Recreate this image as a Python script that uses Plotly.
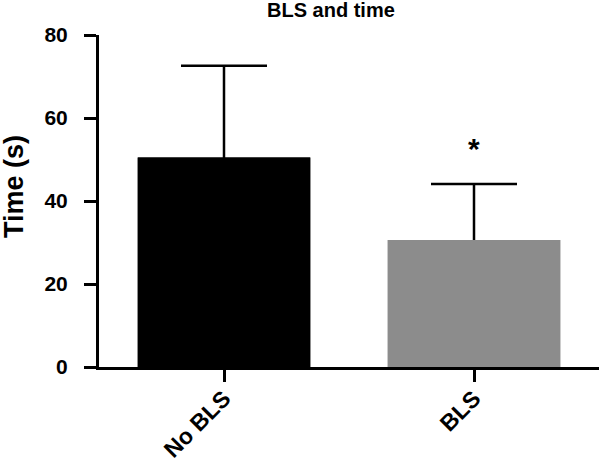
import plotly.graph_objects as go

categories = ["No BLS", "BLS"]
means = [50.5, 30.6]
errors = [22.1, 13.5]
colors = ["#000000", "#8c8c8c"]
y_ticks = [0, 20, 40, 60, 80]
title_text = "BLS and time"
y_title = "Time (s)"
sig_label = "*"

FONT = "Liberation Sans, Arial, sans-serif"

fig = go.Figure()
# error bars (symmetric, lower half hidden behind the bars drawn on top)
fig.add_trace(go.Bar(
    x=categories, y=means,
    marker=dict(color=colors, line=dict(width=0)),
    width=0.69,
    error_y=dict(type="data", symmetric=True, array=errors,
                 color="black", thickness=2.5, width=43),
))
fig.add_trace(go.Bar(
    x=categories, y=means,
    marker=dict(color=colors, line=dict(width=0)),
    width=0.69,
))

fig.add_annotation(x=categories[1], y=means[1] + errors[1] + 8.5,
                   text="<b>" + sig_label + "</b>", showarrow=False,
                   font=dict(size=30, color="black", family=FONT),
                   xref="x", yref="y")

fig.add_annotation(x=0.464, y=1.0, xref="paper", yref="paper",
                   xanchor="center", yanchor="middle", yshift=25,
                   text="<b>" + title_text + "</b>", showarrow=False,
                   font=dict(size=20, color="black", family=FONT))

fig.add_annotation(x=-0.17, y=0.542, xref="paper", yref="paper",
                   xanchor="center", yanchor="middle", textangle=-90,
                   text="<b>" + y_title + "</b>", showarrow=False,
                   font=dict(size=27, color="black", family=FONT))

fig.update_layout(
    width=600, height=462,
    margin=dict(l=99, r=1, t=35, b=95, autoexpand=False),
    plot_bgcolor="white", paper_bgcolor="white",
    showlegend=False, barmode="overlay",
    font=dict(family=FONT, color="black"),
)
fig.update_xaxes(
    range=[-0.5, 1.5], showline=True, linecolor="black", linewidth=3,
    ticks="outside", ticklen=12, tickwidth=3, tickcolor="black",
    tickangle=-45, tickfont=dict(size=23, color="black"),
    ticktext=["<b>" + c + "</b>" for c in categories], tickvals=categories,
    ticklabelstandoff=-6,
    showgrid=False, zeroline=False, automargin=False,
)
fig.update_yaxes(
    range=[0, 80], showline=True, linecolor="black", linewidth=3,
    ticks="outside", ticklen=12, tickwidth=3, tickcolor="black",
    tickvals=y_ticks, ticktext=["<b>%d</b>" % v for v in y_ticks],
    tickfont=dict(size=21, color="black"), ticklabelstandoff=12,
    showgrid=False, zeroline=False, automargin=False,
)

fig.write_html("out.html",
               config={"displayModeBar": False, "staticPlot": True},
               post_script="document.body.style.margin='0';document.body.style.overflow='hidden';")
